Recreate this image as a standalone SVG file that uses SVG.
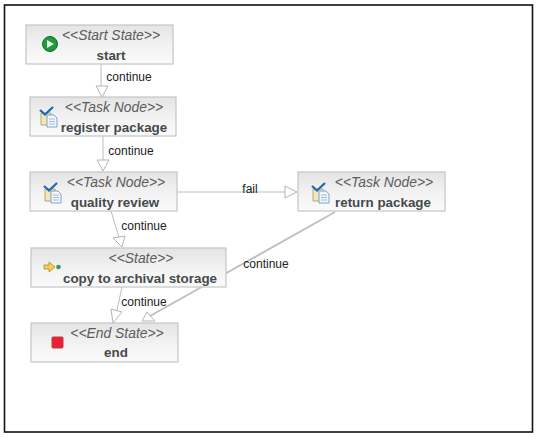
<svg xmlns="http://www.w3.org/2000/svg" width="538" height="438" viewBox="0 0 538 438">
<style>
.box{fill:url(#nodeFill);stroke:#c4c6c6;stroke-width:1.2}
.st{font:italic 13.900px "Liberation Sans",Arial,sans-serif;fill:#5c5c5c;text-anchor:middle}
.nm{font:bold 13.400px "Liberation Sans",Arial,sans-serif;fill:#454a4a;text-anchor:middle}
.lb{font:12px "Liberation Sans",Arial,sans-serif;fill:#222;text-anchor:middle}
.ln{fill:none;stroke:#bcbcbc;stroke-width:1}
.hd{fill:#fff;stroke:#b4b4b4;stroke-width:1}
.tk1{fill:#f4e6b8;stroke:#a89a60;stroke-width:.8}
.tk2{fill:#f2f6fb;stroke:#5f8fc0;stroke-width:.8}
.tk3{fill:none;stroke:#1a66b8;stroke-width:2.200}
.tk4{fill:none;stroke:#7fa5cc;stroke-width:.7}
</style>
<defs>
<linearGradient id="nodeFill" x1="0" y1="0" x2="0" y2="1"><stop offset="0" stop-color="#e4e4e4"/><stop offset=".55" stop-color="#f3f3f3"/><stop offset="1" stop-color="#fafafa"/></linearGradient>
<g id="taskIcon">
<path class="tk1" d="M1 6h10v12H1z"/>
<path class="tk2" d="M7 8h7l3 3v9H7z"/>
<path class="tk4" d="M9 12h6M9 14.500h6M9 17h6"/>
<path class="tk3" d="M0 3l5 4.500L13 0"/>
</g>
</defs>
<rect x="4.500" y="5" width="528" height="427" fill="#fff" stroke="#111" stroke-width="1.600"/>
<g id="connectors">
<path class="ln" d="M101 64V86"/><path class="hd" d="M96 86H108L102 97Z"/>
<path class="ln" d="M103 136V160"/><path class="hd" d="M97 160H109L103 171Z"/>
<path class="ln" d="M111 211L119 237"/><path class="hd" d="M113 238L125 236L122 247Z"/>
<path class="ln" d="M122 287L117 310"/><path class="hd" d="M111 309L122 312L113 323Z"/>
<path class="ln" d="M177 192H285"/><path class="hd" d="M285 186V198L297 192Z"/>
<path fill="none" stroke="#c0c0c0" stroke-width="2" d="M335 212L150 316"/><path class="hd" d="M147 312L155 321H142Z"/>
</g>
<g id="labels">
<text class="lb" x="129" y="81">continue</text>
<text class="lb" x="131" y="155">continue</text>
<text class="lb" x="144" y="230">continue</text>
<text class="lb" x="144" y="306">continue</text>
<text class="lb" x="250" y="193">fail</text>
<text class="lb" x="266" y="268">continue</text>
</g>
<g id="node-start">
<rect class="box" x="26" y="25" width="147" height="39"/>
<circle cx="50" cy="44" r="7.500" fill="#1f9a3c" stroke="#0f6d28"/><path d="M47 40l7 4-7 4z" fill="#eaf6e4"/>
<text class="st" x="111" y="40">&lt;&lt;Start State&gt;&gt;</text>
<text class="nm" x="111" y="60">start</text>
</g>
<g id="node-register">
<rect class="box" x="30" y="97" width="146" height="39"/>
<use href="#taskIcon" x="40" y="107"/>
<text class="st" x="114" y="112">&lt;&lt;Task Node&gt;&gt;</text>
<text class="nm" x="114" y="132">register package</text>
</g>
<g id="node-quality">
<rect class="box" x="30" y="172" width="147" height="39"/>
<use href="#taskIcon" x="44" y="183"/>
<text class="st" x="116" y="187">&lt;&lt;Task Node&gt;&gt;</text>
<text class="nm" x="115" y="207">quality review</text>
</g>
<g id="node-return">
<rect class="box" x="298" y="172" width="147" height="39"/>
<use href="#taskIcon" x="312" y="183"/>
<text class="st" x="384" y="187">&lt;&lt;Task Node&gt;&gt;</text>
<text class="nm" x="383" y="207">return package</text>
</g>
<g id="node-copy">
<rect class="box" x="31" y="248" width="195" height="39"/>
<path d="M44 265h5v-3l6 5-6 5v-3h-5z" fill="#f5cf5a" stroke="#b08a20" stroke-width=".8"/><circle cx="58.500" cy="267" r="2.300" fill="#3a9a5a"/>
<text class="st" x="141" y="263">&lt;&lt;State&gt;&gt;</text>
<text class="nm" x="140" y="283">copy to archival storage</text>
</g>
<g id="node-end">
<rect class="box" x="31" y="323" width="147" height="39"/>
<rect x="52" y="337" width="11" height="11" rx="1" fill="#e8203c" stroke="#b8402f"/>
<text class="st" x="117" y="338">&lt;&lt;End State&gt;&gt;</text>
<text class="nm" x="116" y="357">end</text>
</g>
</svg>
